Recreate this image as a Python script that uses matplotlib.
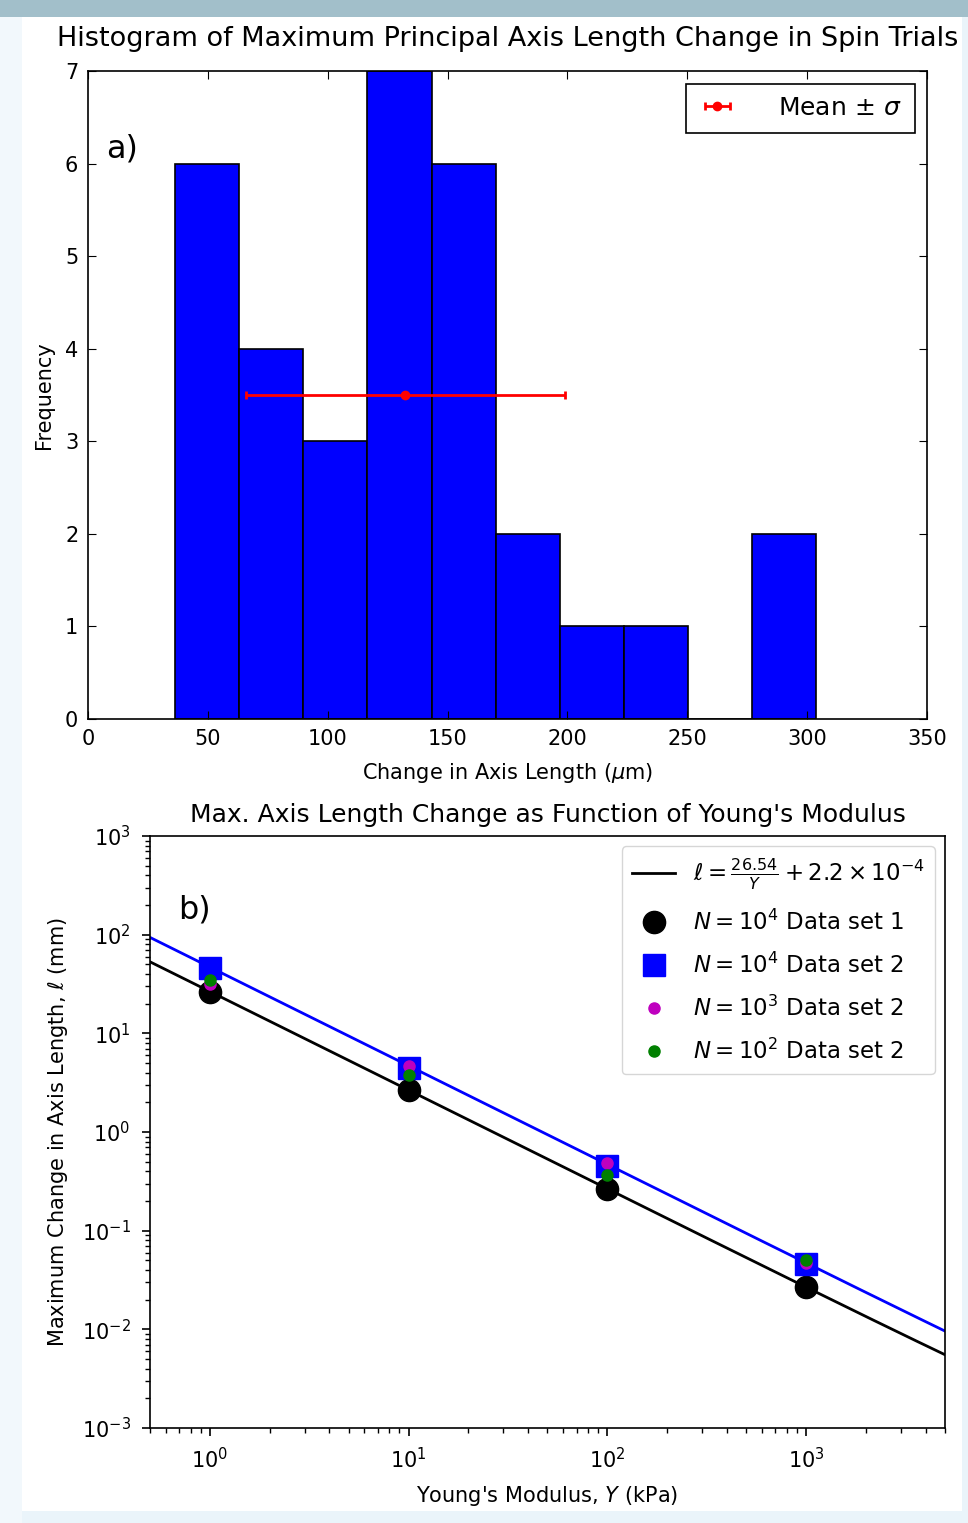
import numpy as np
import matplotlib
matplotlib.use('Agg')
import matplotlib.pyplot as plt
from matplotlib.patches import Rectangle

# histogram (a)
bin_edges = [36.3, 63.0, 89.8, 116.5, 143.3, 170.0, 196.7, 223.5, 250.2, 277.0, 303.7]
bin_counts = [6, 4, 3, 7, 6, 2, 1, 1, 0, 2]
mean_len = 132.4
std_len = 66.5
mean_y = 3.5

# young's modulus scan (b)
youngs = [1, 10, 100, 1000]
set1_n1e4 = [26.1, 2.66, 0.265, 0.0268]
set2_n1e4 = [45.8, 4.44, 0.452, 0.0459]
set2_n1e3 = [31.5, 4.65, 0.485, 0.047]
set2_n1e2 = [34.6, 3.77, 0.366, 0.0504]
fit1 = (26.54, 2.2e-4)
fit2 = (46.9, 2.2e-4)

W, H = 968, 1523
fig = plt.figure(figsize=(W / 100, H / 100), dpi=100, facecolor='#eaf4fa')

def px_rect(x0, y0, x1, y1, color):
    fig.patches.append(Rectangle((x0 / W, 1 - y1 / H), (x1 - x0) / W, (y1 - y0) / H,
                                 transform=fig.transFigure, facecolor=color,
                                 edgecolor='none', zorder=-10))

px_rect(0, 17, 22, H, '#f2f8fc')
px_rect(22, 17, 962, 1511, 'white')
px_rect(0, 0, W, 17, '#a2bfca')

# ---- top: histogram ----
ax1 = fig.add_axes([88 / W, 1 - 719 / H, (927 - 88) / W, (719 - 71) / H])
ax1.hist(bin_edges[:-1], bins=bin_edges, weights=bin_counts,
         color='blue', edgecolor='black', linewidth=1.2)
ax1.errorbar([mean_len], [mean_y], xerr=[std_len], fmt='o', color='red',
             ms=6, lw=2, capsize=3, capthick=2, label=r'Mean $\pm\ \sigma$')
ax1.set_xlim(0, 350)
ax1.set_ylim(0, 7)
ax1.tick_params(direction='in', top=True, right=True, labelsize=15, length=6, pad=7)
for s in ax1.spines.values():
    s.set_linewidth(1.2)
ax1.set_title('Histogram of Maximum Principal Axis Length Change in Spin Trials',
              fontsize=19.5, pad=18)
ax1.set_xlabel(r'Change in Axis Length ($\mu$m)', fontsize=15, labelpad=9)
ax1.set_ylabel('Frequency', fontsize=15, labelpad=8)
ax1.text(0.022, 0.88, 'a)', transform=ax1.transAxes, fontsize=23, va='center')
leg1 = ax1.legend(loc='upper right', fontsize=18, fancybox=False, framealpha=1,
                  handlelength=1.5, borderpad=0.5, handletextpad=1.7,
                  borderaxespad=0.5)
leg1.get_frame().set_edgecolor('black')
leg1.get_frame().set_linewidth(1.2)

# ---- bottom: log-log ----
ax2 = fig.add_axes([150 / W, 1 - 1428 / H, (945 - 150) / W, (1428 - 836) / H])
yy = np.logspace(np.log10(0.5), np.log10(5000), 200)
ax2.loglog(yy, fit1[0] / yy + fit1[1], color='black', lw=2,
           label=r'$\ell = \frac{26.54}{Y} + 2.2 \times 10^{-4}$')
ax2.loglog(yy, fit2[0] / yy + fit2[1], color='blue', lw=2)
ax2.loglog(youngs, set1_n1e4, 'o', color='black', ms=16,
           label=r'$N = 10^4$ Data set 1')
ax2.loglog(youngs, set2_n1e4, 's', color='blue', ms=16,
           label=r'$N = 10^4$ Data set 2')
ax2.loglog(youngs, set2_n1e3, 'o', color='m', ms=8,
           label=r'$N = 10^3$ Data set 2')
ax2.loglog(youngs, set2_n1e2, 'o', color='green', ms=8,
           label=r'$N = 10^2$ Data set 2')
ax2.set_xlim(0.5, 5000)
ax2.set_ylim(1e-3, 1e3)
ax2.tick_params(which='major', labelsize=15, length=6, width=1.2, pad=8)
ax2.tick_params(which='minor', length=3.5, width=1)
for s in ax2.spines.values():
    s.set_linewidth(1.2)
    s.set_color('black')
ax2.set_title("Max. Axis Length Change as Function of Young's Modulus",
              fontsize=18, pad=10)
ax2.set_xlabel(r"Young's Modulus, $Y$ (kPa)", fontsize=15, labelpad=8)
ax2.set_ylabel(r'Maximum Change in Axis Length, $\ell$ (mm)', fontsize=15,
               labelpad=8)
ax2.text(0.036, 0.875, 'b)', transform=ax2.transAxes, fontsize=23, va='center')
ax2.legend(loc='upper right', fontsize=16.5, labelspacing=0.78,
           handlelength=1.9, borderpad=0.45, handletextpad=0.75,
           borderaxespad=0.45)

fig.savefig('out.png', dpi=100, facecolor=fig.get_facecolor())
